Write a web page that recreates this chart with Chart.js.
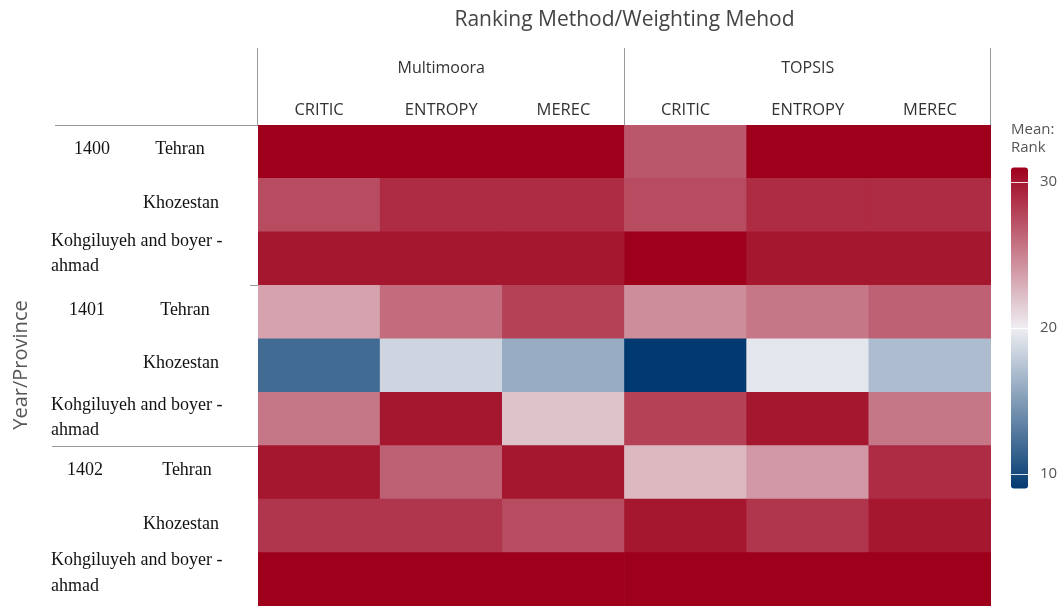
<!DOCTYPE html>
<html lang="en">
<head>
  <meta charset="UTF-8" />
  <title>Mean Rank by Year/Province</title>
  <style>
    body { margin: 0; background: #fff; }
    #wrap { width: 1060px; height: 606px; position: relative; }
  </style>
</head>
<body>
  <div id="wrap"><canvas id="heat" width="1060" height="606"></canvas></div>

  <script src="https://cdn.jsdelivr.net/npm/chart.js"></script>
  <script>
    // columns: ranking method / weighting method
    const groups = ['Multimoora', 'TOPSIS'];
    const weights = ['CRITIC', 'ENTROPY', 'MEREC'];
    const columns = ['M-CRITIC', 'M-ENTROPY', 'M-MEREC', 'T-CRITIC', 'T-ENTROPY', 'T-MEREC'];

    // rows, top to bottom
    const years = ['1400', '1401', '1402'];
    const provinces = ['Tehran', 'Khozestan', 'Kohgiluyeh and boyer -|ahmad'];

    // mean rank, one array per row (top to bottom)
    const r1400Tehran = [31, 31, 31, 27, 31, 31];
    const r1400Khozestan = [27.5, 29, 29, 27.5, 29, 29];
    const r1400Kohgiluyeh = [30, 30, 30, 31, 30, 30];
    const r1401Tehran = [23.5, 26, 28, 24.5, 25.5, 26.5];
    const r1401Khozestan = [12, 18.5, 16, 9, 19.5, 17];
    const r1401Kohgiluyeh = [25.5, 30, 22, 28, 30, 25.5];
    const r1402Tehran = [30, 26.5, 30, 22.5, 24, 29];
    const r1402Khozestan = [28.5, 28.5, 27.5, 30, 28.5, 30];
    const r1402Kohgiluyeh = [31, 31, 31, 31, 31, 31];

    const rows = [r1400Tehran, r1400Khozestan, r1400Kohgiluyeh,
                  r1401Tehran, r1401Khozestan, r1401Kohgiluyeh,
                  r1402Tehran, r1402Khozestan, r1402Kohgiluyeh];

    const legendTicks = [30, 20, 10];
    const vMin = 9, vMid = 20, vMax = 31;

    const blue = [1, 58, 113], mid = [238, 238, 242], red = [158, 0, 28];

    function mix(a, b, t) {
      return a.map((c, i) => Math.round(c + (b[i] - c) * t));
    }
    function colorFor(v) {
      let c;
      if (v <= vMid) c = mix(blue, mid, (v - vMin) / (vMid - vMin));
      else c = mix(mid, red, (v - vMid) / (vMax - vMid));
      return `rgb(${c[0]},${c[1]},${c[2]})`;
    }

    // stacked bars, bottom row first so it sits at the bottom of the stack
    const datasets = rows.slice().reverse().map((vals, i) => ({
      label: 'row' + i,
      data: vals.map(() => 1),
      rank: vals,
      backgroundColor: vals.map(colorFor),
      borderWidth: 0,
      barPercentage: 1,
      categoryPercentage: 1
    }));

    const sans = '"Open Sans", sans-serif';
    const serif = '"Liberation Serif", serif';

    // x position of year / province labels and the two-line offsets, per row block
    const yearX = [92, 87, 85];
    const tehranX = [180, 185, 187];
    const twoLine = [[-17, 4], [-14, 7], [-19, 3]];

    const labelsPlugin = {
      id: 'labels',
      afterDraw(chart) {
        const { ctx, scales: { x, y }, chartArea: a } = chart;
        ctx.save();

        // title
        ctx.fillStyle = '#444';
        ctx.textAlign = 'center';
        ctx.textBaseline = 'middle';
        ctx.font = '21px ' + sans;
        ctx.fillText('Ranking Method/Weighting Mehod', (a.left + a.right) / 2, 20);

        // group headers + weighting labels
        ctx.font = '16px ' + sans;
        ctx.fillStyle = '#333';
        groups.forEach((g, gi) => {
          const cx = (x.getPixelForValue(gi * 3) + x.getPixelForValue(gi * 3 + 2)) / 2;
          ctx.fillText(g, cx, 68);
        });
        ctx.font = '16.5px ' + sans;
        columns.forEach((c, i) => {
          ctx.fillText(weights[i % 3], x.getPixelForValue(i), 110);
        });

        // header separators
        ctx.strokeStyle = '#999';
        ctx.lineWidth = 1;
        ctx.beginPath();
        [a.left, (x.getPixelForValue(2) + x.getPixelForValue(3)) / 2, a.right].forEach(px => {
          const p = Math.round(px) - 0.5;
          ctx.moveTo(p, 48);
          ctx.lineTo(p, a.top);
        });
        // year separators
        const yTop = y.getPixelForValue(9), y2 = y.getPixelForValue(6), y3 = y.getPixelForValue(3);
        ctx.moveTo(55, Math.round(yTop) + 0.5); ctx.lineTo(a.left, Math.round(yTop) + 0.5);
        ctx.moveTo(250, Math.round(y2) + 0.5); ctx.lineTo(a.left, Math.round(y2) + 0.5);
        ctx.moveTo(52, Math.round(y3) + 0.5); ctx.lineTo(a.left, Math.round(y3) + 0.5);
        ctx.stroke();

        // row labels
        ctx.fillStyle = '#111';
        ctx.font = '18px ' + serif;
        const rowH = y.getPixelForValue(0) - y.getPixelForValue(1);
        rows.forEach((r, ri) => {
          const cy = y.getPixelForValue(9 - ri) + rowH / 2;
          const yi = Math.floor(ri / 3), pi = ri % 3;
          if (pi === 0) {
            ctx.textAlign = 'center';
            ctx.fillText(years[yi], yearX[yi], cy - 2);
          }
          const parts = provinces[pi].split('|');
          if (parts.length === 1) {
            ctx.textAlign = 'center';
            ctx.fillText(parts[0], pi === 0 ? tehranX[yi] : 181, cy - 2);
          } else {
            ctx.textAlign = 'left';
            ctx.fillText(parts[0], 51, cy + twoLine[yi][0]);
            ctx.fillText(parts[1], 51, cy + twoLine[yi][1] + 4);
          }
        });

        // y axis title
        ctx.save();
        ctx.translate(21, 365);
        ctx.rotate(-Math.PI / 2);
        ctx.textAlign = 'center';
        ctx.fillStyle = '#555';
        ctx.font = '20px ' + sans;
        ctx.fillText('Year/Province', 0, 0);
        ctx.restore();

        // colour legend
        ctx.fillStyle = '#555';
        ctx.textAlign = 'left';
        ctx.font = '15px ' + sans;
        ctx.fillText('Mean:', 1011, 130);
        ctx.fillText('Rank', 1011, 148);

        const lx = 1011, lw = 17, lTop = 167.5, lBot = 488.5;
        const pxPerUnit = (lBot - lTop) / (vMax - vMin);
        const grad = ctx.createLinearGradient(0, lTop, 0, lBot);
        for (let s = 0; s <= 22; s++) {
          const v = vMax - (vMax - vMin) * s / 22;
          grad.addColorStop(s / 22, colorFor(v));
        }
        ctx.fillStyle = grad;
        ctx.beginPath();
        ctx.roundRect(lx, lTop, lw, lBot - lTop, 3);
        ctx.fill();

        legendTicks.forEach(t => {
          const ty = lTop + (vMax - t) * pxPerUnit;
          ctx.strokeStyle = 'rgba(255,255,255,0.85)';
          ctx.beginPath();
          ctx.moveTo(lx, Math.round(ty) + 0.5); ctx.lineTo(lx + lw, Math.round(ty) + 0.5);
          ctx.stroke();
          ctx.fillStyle = '#555';
          ctx.fillText(String(t), 1040, ty);
        });

        ctx.restore();
      }
    };

    new Chart(document.getElementById('heat'), {
      type: 'bar',
      data: { labels: columns, datasets },
      options: {
        responsive: false,
        animation: false,
        layout: { padding: { left: 258, right: 69, top: 125, bottom: 0 } },
        plugins: { legend: { display: false }, tooltip: { enabled: false } },
        scales: {
          x: { stacked: true, display: false, offset: true },
          y: { stacked: true, display: false, min: 0, max: 9 }
        }
      },
      plugins: [labelsPlugin]
    });
  </script>
</body>
</html>
